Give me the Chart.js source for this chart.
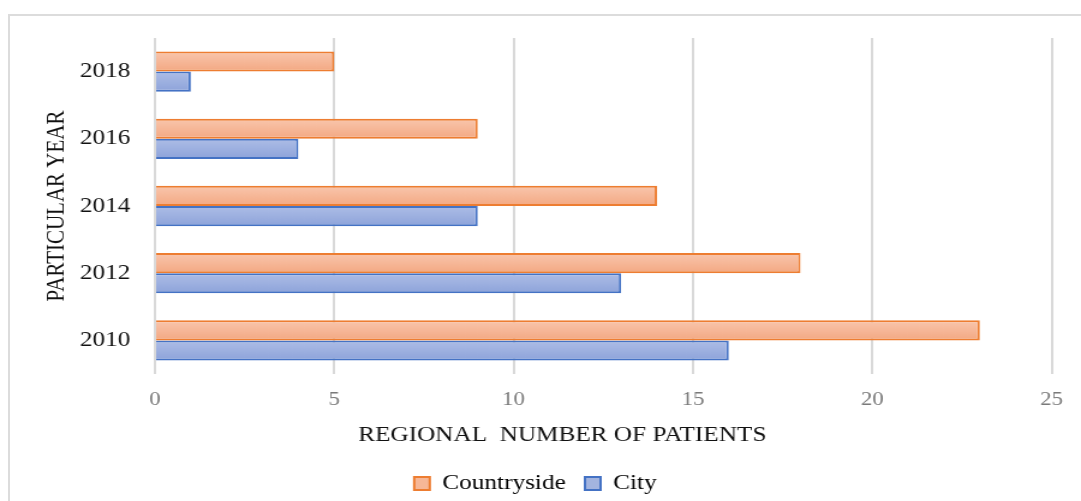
<!DOCTYPE html>
<html>
<head>
<meta charset="utf-8">
<title>Regional number of patients</title>
<script src="https://cdn.jsdelivr.net/npm/chart.js@4/dist/chart.umd.min.js"></script>
<style>
  html, body { margin: 0; padding: 0; background: #fff; overflow: hidden; }
  #frame {
    position: absolute; left: 8px; top: 14px; width: 1200px; height: 700px;
    border: 2px solid #dcdcdc;
  }
  #chart { position: absolute; left: 0; top: 0; }
</style>
</head>
<body>
<div id="frame"></div>
<canvas id="chart" width="900" height="520" style="width:1081px;height:520px"></canvas>
<script>
/* Countryside vs city patients per year, horizontal grouped bars */

const years = ["2018", "2016", "2014", "2012", "2010"];
const countryside = [5, 9, 14, 18, 23];
const city = [1, 4, 9, 13, 16];
const seriesNames = ["Countryside", "City"];
const xMax = 25;
const xStep = 5;

const serif = "'Liberation Serif', 'Times New Roman', serif";

// vertical gradient per bar, like the office-style fill in the original
function barFill(top, bottom) {
  return (ctx) => {
    const el = ctx.element;
    if (!el || el.y === undefined || !el.height) return top;
    const h = el.height;
    const g = ctx.chart.ctx.createLinearGradient(0, el.y - h / 2, 0, el.y + h / 2);
    g.addColorStop(0, top);
    g.addColorStop(1, bottom);
    return g;
  };
}

const legendColors = [
  { fill: "#f6b797", stroke: "#ed7d31" },
  { fill: "#a3b4df", stroke: "#4472c4" },
];

// title sits a bit left of the plot centre in the original
const xTitle = "REGIONAL  NUMBER OF PATIENTS" + "\u00a0".repeat(13);

const chart = new Chart(document.getElementById("chart"), {
  type: "bar",
  data: {
    labels: years,
    datasets: [
      {
        label: seriesNames[0],
        data: countryside,
        backgroundColor: barFill("#f9c6ad", "#f3a882"),
        borderColor: "#ed7d31",
        borderWidth: 2,
      },
      {
        label: seriesNames[1],
        data: city,
        backgroundColor: barFill("#adbde6", "#8da3da"),
        borderColor: "#4472c4",
        borderWidth: 2,
      },
    ],
  },
  options: {
    indexAxis: "y",
    responsive: false,
    animation: false,
    categoryPercentage: 0.6,
    barPercentage: 1,
    layout: { padding: { top: 38, right: 8.5, left: 0, bottom: 16 } },
    scales: {
      x: {
        min: 0,
        max: xMax,
        ticks: {
          stepSize: xStep,
          padding: 15,
          color: "#7a7a7a",
          font: { family: serif, size: 19 },
        },
        grid: { color: "#d9d9d9", lineWidth: 2, drawTicks: false },
        border: { display: false },
        title: {
          display: true,
          text: xTitle,
          color: "#111",
          font: { family: serif, size: 21 },
          padding: { top: 0, bottom: 9 },
        },
        afterFit: (s) => { s.height = 83; },
      },
      y: {
        ticks: {
          padding: 12.5,
          color: "#111",
          font: { family: serif, size: 21 },
        },
        grid: { display: false },
        border: { display: false },
        title: {
          display: true,
          text: "PARTICULAR YEAR",
          color: "#111",
          font: { family: serif, size: 21 },
          padding: { top: 35, bottom: 0 },
        },
        afterFit: (s) => { s.width = 129; },
      },
    },
    plugins: {
      tooltip: { enabled: false },
      legend: {
        position: "bottom",
        labels: {
          color: "#111",
          font: { family: serif, size: 21 },
          boxWidth: 13,
          boxHeight: 13,
          padding: 16,
          generateLabels: () =>
            seriesNames.map((name, i) => ({
              text: name,
              fillStyle: legendColors[i].fill,
              strokeStyle: legendColors[i].stroke,
              lineWidth: 2,
              hidden: false,
              datasetIndex: i,
            })),
        },
      },
    },
  },
});

// second pass so the gradients can read the bar positions
chart.update();
</script>
</body>
</html>
